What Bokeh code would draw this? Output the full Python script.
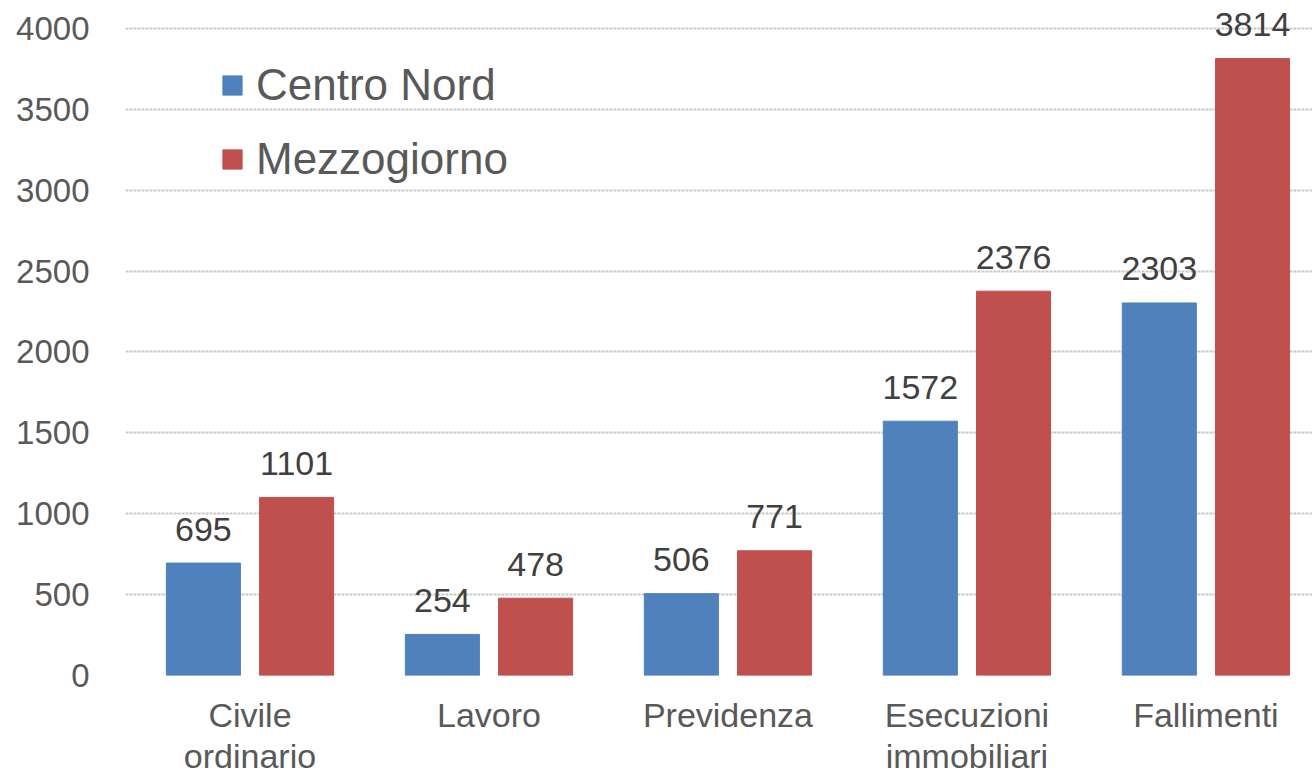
from bokeh.plotting import figure
from bokeh.models import Range1d, FixedTicker, Legend, LegendItem, ColumnDataSource
from bokeh.core.properties import value
from bokeh.embed import file_html
from bokeh.resources import INLINE

categories = ["Civile\nordinario", "Lavoro", "Previdenza", "Esecuzioni\nimmobiliari", "Fallimenti"]
centro_nord = [695, 254, 506, 1572, 2303]
mezzogiorno = [1101, 478, 771, 2376, 3814]
y_ticks = [0, 500, 1000, 1500, 2000, 2500, 3000, 3500, 4000]

BLUE = "#4F81BD"
RED = "#C0504D"
FONT = "Liberation Sans"

idx = [i + 0.5 for i in range(len(categories))]
off = 0.195
bw = 0.31

src = ColumnDataSource(dict(
    xb=[x - off for x in idx], xr=[x + off for x in idx],
    cn=centro_nord, mz=mezzogiorno,
    cnt=[str(v) for v in centro_nord], mzt=[str(v) for v in mezzogiorno],
))

p = figure(width=1312, height=778, output_backend="svg", toolbar_location=None,
           x_range=Range1d(-0.021, 4.946), y_range=Range1d(0, 4173),
           min_border_left=125, min_border_right=0, min_border_top=0, min_border_bottom=103)
p.outline_line_color = None
p.background_fill_color = "white"

r1 = p.vbar(x="xb", top="cn", width=bw, source=src, fill_color=BLUE, line_color=BLUE)
r2 = p.vbar(x="xr", top="mz", width=bw, source=src, fill_color=RED, line_color=RED)

p.text(x="xb", y="cn", text="cnt", source=src, text_align="center", text_baseline="alphabetic",
       y_offset=-34, text_font=value(FONT), text_font_size="34px", text_color="#404040")
p.text(x="xr", y="mz", text="mzt", source=src, text_align="center", text_baseline="alphabetic",
       y_offset=-34, text_font=value(FONT), text_font_size="34px", text_color="#404040")

# axes
p.yaxis.ticker = FixedTicker(ticks=y_ticks)
p.yaxis.axis_line_color = None
p.yaxis.major_tick_line_color = None
p.yaxis.minor_tick_line_color = None
p.yaxis.major_label_standoff = 30
p.yaxis.major_label_text_font = FONT
p.yaxis.major_label_text_font_size = "33px"
p.yaxis.major_label_text_color = "#595959"

p.xaxis.ticker = FixedTicker(ticks=idx)
p.xaxis.major_label_overrides = {x: c for x, c in zip(idx, categories)}
p.xaxis.axis_line_color = None
p.xaxis.major_tick_line_color = None
p.xaxis.minor_tick_line_color = None
p.xaxis.major_label_standoff = 14
p.xaxis.major_label_text_font = FONT
p.xaxis.major_label_text_font_size = "34px"
p.xaxis.major_label_text_color = "#595959"
p.xaxis.major_label_text_line_height = 1.1

p.xgrid.grid_line_color = None
p.ygrid.ticker = FixedTicker(ticks=y_ticks)
p.ygrid.grid_line_color = "#C8C8C8"
p.ygrid.grid_line_width = 2
p.ygrid.grid_line_dash = "3 1"

legend = Legend(items=[LegendItem(label="Centro Nord", renderers=[r1]),
                       LegendItem(label="Mezzogiorno", renderers=[r2])],
                location=(95, 491), orientation="vertical")
legend.label_text_font = FONT
legend.label_text_font_size = "44px"
legend.label_text_color = "#595959"
legend.glyph_width = 24
legend.glyph_height = 24
legend.label_standoff = 12
legend.spacing = 24
legend.padding = 0
legend.margin = 0
legend.border_line_color = None
legend.background_fill_alpha = 0
p.add_layout(legend)

open("out.html", "w").write(file_html(p, INLINE))
